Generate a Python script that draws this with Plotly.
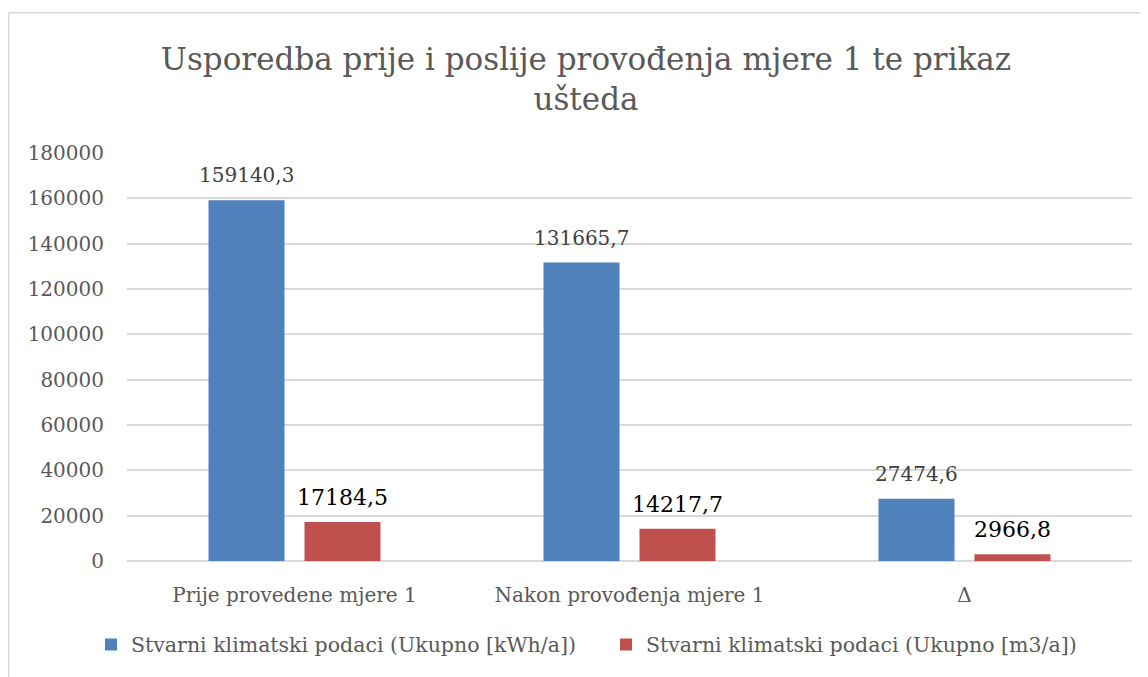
import plotly.graph_objects as go

categories = ["Prije provedene mjere 1", "Nakon provođenja mjere 1", "Δ"]
kwh_values = [159140.3, 131665.7, 27474.6]
m3_values = [17184.5, 14217.7, 2966.8]
series_names = ["Stvarni klimatski podaci (Ukupno [kWh/a])",
                "Stvarni klimatski podaci (Ukupno [m3/a])"]
y_ticks = [0, 20000, 40000, 60000, 80000, 100000, 120000, 140000, 160000, 180000]

FONT = "DejaVu Serif"
# page has an 8px body margin; figure coordinates = page - 8
W, H = 1140, 669
ml, mr, mt, mb = 119, 16, 145, 114
pw, ph = W - ml - mr, H - mt - mb


def fmt(v):
    return f"{v:.1f}".replace(".", ",")


fig = go.Figure()
fig.add_trace(go.Bar(
    x=categories, y=kwh_values, name=series_names[0],
    marker=dict(color="#4F81BD", line=dict(width=0)),
))
fig.add_trace(go.Bar(
    x=categories, y=m3_values, name=series_names[1],
    marker=dict(color="#C0504D", line=dict(width=0)),
))

annotations = []
for c, v in zip(categories, kwh_values):
    annotations.append(dict(x=c, y=v, xref="x", yref="y", text=fmt(v),
                            showarrow=False, xanchor="center", yanchor="bottom",
                            xshift=-48, yshift=11,
                            font=dict(family=FONT, size=20, color="#404040")))
for c, v in zip(categories, m3_values):
    annotations.append(dict(x=c, y=v, xref="x", yref="y", text=fmt(v),
                            showarrow=False, xanchor="center", yanchor="bottom",
                            xshift=48, yshift=10,
                            font=dict(family=FONT, size=22, color="#000000")))


def px_x(p):
    return (p - ml) / pw


def px_y(p):
    return (H - mb - p) / ph


fig.update_layout(
    width=W, height=H,
    margin=dict(l=ml, r=mr, t=mt, b=mb),
    paper_bgcolor="white", plot_bgcolor="white",
    barmode="group", bargap=0.427, bargroupgap=0.208,
    title=dict(
        text="Usporedba prije i poslije provođenja mjere 1 te prikaz<br>ušteda",
        xref="container", x=578 / W, xanchor="center",
        yref="container", y=1 - 62 / H, yanchor="middle",
        font=dict(family=FONT, size=31, color="#595959"),
    ),
    font=dict(family=FONT, size=20, color="#595959"),
    xaxis=dict(showgrid=False, showline=False, ticks="", ticklabelstandoff=20,
               tickfont=dict(family=FONT, size=20, color="#595959")),
    yaxis=dict(range=[0, 180000], tickvals=y_ticks, tickformat="d",
               showgrid=True, gridcolor="#D9D9D9", gridwidth=1.5,
               zeroline=True, zerolinecolor="#D9D9D9", zerolinewidth=1.5,
               showline=False, ticks="", ticklabelstandoff=22,
               tickfont=dict(family=FONT, size=20, color="#595959")),
    showlegend=True,
    legend=dict(orientation="h", x=px_x(83), xanchor="left",
                y=px_y(639), yanchor="middle",
                font=dict(family=FONT, size=20.5, color="#595959"),
                itemwidth=30, traceorder="normal",
                entrywidth=470, entrywidthmode="pixels"),
    annotations=annotations,
    shapes=[
        dict(type="line", xref="paper", yref="paper",
             x0=px_x(0.75), x1=px_x(0.75), y0=px_y(4), y1=px_y(H + 5),
             line=dict(color="#D9D9D9", width=1.5)),
        dict(type="line", xref="paper", yref="paper",
             x0=px_x(0.75), x1=px_x(W + 5), y0=px_y(4), y1=px_y(4),
             line=dict(color="#D9D9D9", width=1.5)),
    ],
)

fig.write_html("out.html")
